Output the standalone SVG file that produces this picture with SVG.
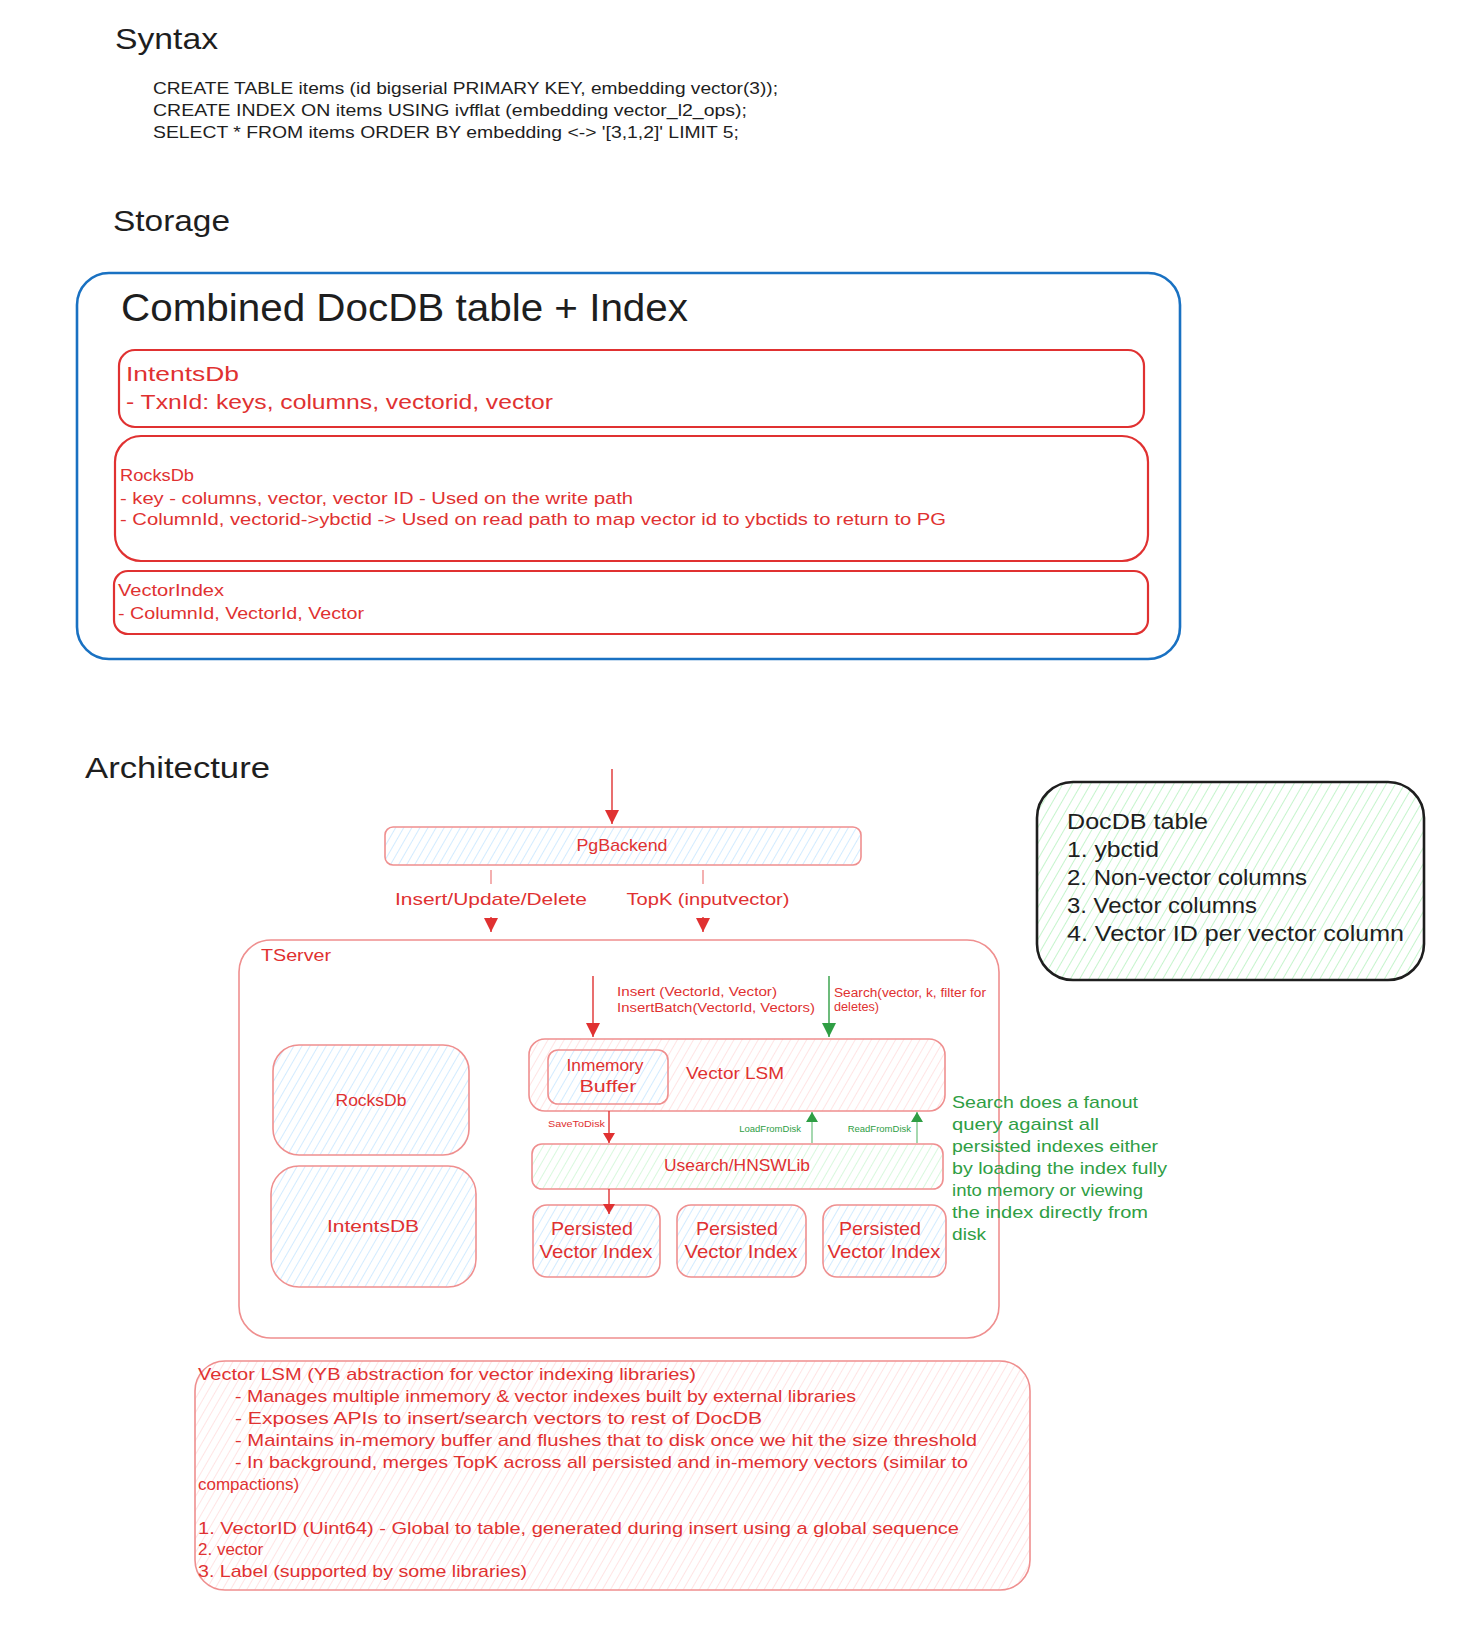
<svg xmlns="http://www.w3.org/2000/svg" width="1470" height="1635" viewBox="0 0 1470 1635">
<defs>
<style>
text{font-family:"Liberation Sans","DejaVu Sans",sans-serif;}
.h{font-size:30px;fill:#1e1e1e;}
.sql{font-size:17px;fill:#1e1e1e;}
.r{fill:#e03131;}
.g{fill:#2f9e44;}
.k{fill:#1e1e1e;}
.c{text-anchor:middle;}
.boxR{fill:none;stroke:#e03131;stroke-width:2.2;}
.boxL{stroke:#ef8f8f;stroke-width:1.6;}
.ln{fill:none;stroke:#e03131;stroke-width:1.4;}
.lg{fill:none;stroke:#2f9e44;stroke-width:1.4;}
.lnl{fill:none;stroke:#ef8f8f;stroke-width:1.4;}
.lgl{fill:none;stroke:#8fcf9c;stroke-width:1.6;}
</style>
<pattern id="hB" width="7" height="7" patternUnits="userSpaceOnUse" patternTransform="rotate(30)"><rect width="7" height="7" fill="#fff"/><line x1="0" y1="0" x2="0" y2="7" stroke="#a5d8ff" stroke-width="1"/></pattern>
<pattern id="hR" width="7" height="7" patternUnits="userSpaceOnUse" patternTransform="rotate(30)"><rect width="7" height="7" fill="#fff"/><line x1="0" y1="0" x2="0" y2="7" stroke="#ffc9c9" stroke-width="1"/></pattern>
<pattern id="hG" width="7" height="7" patternUnits="userSpaceOnUse" patternTransform="rotate(30)"><rect width="7" height="7" fill="#fff"/><line x1="0" y1="0" x2="0" y2="7" stroke="#b2f2bb" stroke-width="1"/></pattern>
<pattern id="hG2" width="8" height="8" patternUnits="userSpaceOnUse" patternTransform="rotate(30)"><rect width="8" height="8" fill="#fff"/><line x1="0" y1="0" x2="0" y2="8" stroke="#8ce99a" stroke-width="1"/></pattern>
<marker id="aRb" viewBox="0 0 14 14" refX="14" refY="7" markerWidth="16" markerHeight="14" markerUnits="userSpaceOnUse" orient="auto"><path d="M0,0 L14,7 L0,14 z" fill="#e03131"/></marker>
<marker id="aG" viewBox="0 0 14 14" refX="14" refY="7" markerWidth="16" markerHeight="14" markerUnits="userSpaceOnUse" orient="auto"><path d="M0,0 L14,7 L0,14 z" fill="#2f9e44"/></marker>
<marker id="aGs" viewBox="0 0 10 12" refX="10" refY="6" markerWidth="11" markerHeight="12" markerUnits="userSpaceOnUse" orient="auto"><path d="M0,0 L10,6 L0,12 z" fill="#2f9e44"/></marker>
<marker id="aRs" viewBox="0 0 10 12" refX="10" refY="6" markerWidth="11" markerHeight="12" markerUnits="userSpaceOnUse" orient="auto"><path d="M0,0 L10,6 L0,12 z" fill="#e03131"/></marker>
</defs>
<rect width="1470" height="1635" fill="#fff"/>

<g id="syntax">
<text class="h" x="115" y="49" textLength="103" lengthAdjust="spacingAndGlyphs">Syntax</text>
<text class="sql" x="153" y="94" textLength="625" lengthAdjust="spacingAndGlyphs">CREATE TABLE items (id bigserial PRIMARY KEY, embedding vector(3));</text>
<text class="sql" x="153" y="116" textLength="594" lengthAdjust="spacingAndGlyphs">CREATE INDEX ON items USING ivfflat (embedding vector_l2_ops);</text>
<text class="sql" x="153" y="138" textLength="586" lengthAdjust="spacingAndGlyphs">SELECT * FROM items ORDER BY embedding &lt;-&gt; '[3,1,2]' LIMIT 5;</text>
</g>

<g id="storage-title"><text class="h" x="113" y="231" textLength="117" lengthAdjust="spacingAndGlyphs">Storage</text></g>

<g id="combined">
<rect x="77" y="273" width="1103" height="386" rx="32" fill="none" stroke="#1971c2" stroke-width="2.6"/>
<text x="121" y="321" font-size="38" class="k" textLength="567" lengthAdjust="spacingAndGlyphs">Combined DocDB table + Index</text>
</g>

<g id="intentsdb-store">
<rect class="boxR" x="119" y="350" width="1025" height="77" rx="16"/>
<text class="r" x="126" y="381" font-size="21" textLength="113" lengthAdjust="spacingAndGlyphs">IntentsDb</text>
<text class="r" x="126" y="409" font-size="21" textLength="427" lengthAdjust="spacingAndGlyphs">- TxnId: keys, columns, vectorid, vector</text>
</g>

<g id="rocksdb-store">
<rect class="boxR" x="115" y="436" width="1033" height="125" rx="26"/>
<text class="r" x="120" y="481" font-size="16" textLength="74" lengthAdjust="spacingAndGlyphs">RocksDb</text>
<text class="r" x="120" y="504" font-size="16" textLength="513" lengthAdjust="spacingAndGlyphs">- key - columns, vector, vector ID - Used on the write path</text>
<text class="r" x="120" y="525" font-size="16" textLength="826" lengthAdjust="spacingAndGlyphs">- ColumnId, vectorid-&gt;ybctid -&gt; Used on read path to map vector id to ybctids to return to PG</text>
</g>

<g id="vectorindex-store">
<rect class="boxR" x="114" y="571" width="1034" height="63" rx="14"/>
<text class="r" x="118" y="596" font-size="16" textLength="106" lengthAdjust="spacingAndGlyphs">VectorIndex</text>
<text class="r" x="118" y="619" font-size="16" textLength="246" lengthAdjust="spacingAndGlyphs">- ColumnId, VectorId, Vector</text>
</g>

<g id="arch-title"><text class="h" x="85" y="778" textLength="185" lengthAdjust="spacingAndGlyphs">Architecture</text></g>

<g id="pgbackend">
<rect class="boxL" x="385" y="827" width="476" height="38" rx="8" fill="url(#hB)"/>
<text class="r c" x="622" y="851" font-size="17" textLength="91" lengthAdjust="spacingAndGlyphs">PgBackend</text>
</g>

<g id="tserver">
<rect class="boxL" x="239" y="940" width="760" height="398" rx="32" fill="none"/>
<text class="r" x="261" y="961" font-size="17" textLength="70" lengthAdjust="spacingAndGlyphs">TServer</text>
</g>

<g id="rocksdb">
<rect class="boxL" x="273" y="1045" width="196" height="110" rx="26" fill="url(#hB)" stroke="#e35a5a"/>
<text class="r c" x="371" y="1106" font-size="17" textLength="71" lengthAdjust="spacingAndGlyphs">RocksDb</text>
</g>

<g id="intentsdb">
<rect class="boxL" x="271" y="1166" width="205" height="121" rx="28" fill="url(#hB)" stroke="#e35a5a"/>
<text class="r c" x="373" y="1232" font-size="17" textLength="92" lengthAdjust="spacingAndGlyphs">IntentsDB</text>
</g>

<g id="vectorlsm">
<rect class="boxL" x="529" y="1039" width="416" height="72" rx="16" fill="url(#hR)" stroke="#e35a5a"/>
<text class="r" x="686" y="1079" font-size="17" textLength="98" lengthAdjust="spacingAndGlyphs">Vector LSM</text>
</g>

<g id="inmemory">
<rect class="boxL" x="548" y="1050" width="120" height="54" rx="10" fill="url(#hB)" stroke="#e35a5a"/>
<text class="r c" x="605" y="1071" font-size="16" textLength="77" lengthAdjust="spacingAndGlyphs">Inmemory</text>
<text class="r c" x="608" y="1092" font-size="16" textLength="57" lengthAdjust="spacingAndGlyphs">Buffer</text>
</g>

<g id="usearch">
<rect class="boxL" x="532" y="1144" width="411" height="45" rx="10" fill="url(#hG)" stroke="#e35a5a"/>
<text class="r c" x="737" y="1171" font-size="17" textLength="146" lengthAdjust="spacingAndGlyphs">Usearch/HNSWLib</text>
</g>

<g id="persisted1">
<rect class="boxL" x="533" y="1205" width="127" height="72" rx="14" fill="url(#hB)" stroke="#e35a5a"/>
<text class="r c" x="592" y="1235" font-size="19" textLength="82" lengthAdjust="spacingAndGlyphs">Persisted</text>
<text class="r c" x="596" y="1258" font-size="19" textLength="113" lengthAdjust="spacingAndGlyphs">Vector Index</text>
</g>
<g id="persisted2">
<rect class="boxL" x="677" y="1205" width="129" height="72" rx="14" fill="url(#hB)" stroke="#e35a5a"/>
<text class="r c" x="737" y="1235" font-size="19" textLength="82" lengthAdjust="spacingAndGlyphs">Persisted</text>
<text class="r c" x="741" y="1258" font-size="19" textLength="113" lengthAdjust="spacingAndGlyphs">Vector Index</text>
</g>
<g id="persisted3">
<rect class="boxL" x="823" y="1205" width="123" height="72" rx="14" fill="url(#hB)" stroke="#e35a5a"/>
<text class="r c" x="880" y="1235" font-size="19" textLength="82" lengthAdjust="spacingAndGlyphs">Persisted</text>
<text class="r c" x="884" y="1258" font-size="19" textLength="113" lengthAdjust="spacingAndGlyphs">Vector Index</text>
</g>

<g id="search-note" class="g" font-size="17">
<text x="952" y="1108" textLength="186" lengthAdjust="spacingAndGlyphs">Search does a fanout</text>
<text x="952" y="1130" textLength="147" lengthAdjust="spacingAndGlyphs">query  against all</text>
<text x="952" y="1152" textLength="206" lengthAdjust="spacingAndGlyphs">persisted indexes either</text>
<text x="952" y="1174" textLength="215" lengthAdjust="spacingAndGlyphs">by loading the index fully</text>
<text x="952" y="1196" textLength="191" lengthAdjust="spacingAndGlyphs">into memory or viewing</text>
<text x="952" y="1218" textLength="196" lengthAdjust="spacingAndGlyphs">the index directly from</text>
<text x="952" y="1240" textLength="34" lengthAdjust="spacingAndGlyphs">disk</text>
</g>

<g id="docdb-table">
<rect x="1037" y="782" width="387" height="198" rx="36" fill="url(#hG2)" stroke="#1e1e1e" stroke-width="2.6"/>
<g class="k" font-size="22">
<text x="1067" y="829" textLength="141" lengthAdjust="spacingAndGlyphs">DocDB table</text>
<text x="1067" y="857" textLength="92" lengthAdjust="spacingAndGlyphs">1. ybctid</text>
<text x="1067" y="885" textLength="240" lengthAdjust="spacingAndGlyphs">2. Non-vector columns</text>
<text x="1067" y="913" textLength="190" lengthAdjust="spacingAndGlyphs">3. Vector columns</text>
<text x="1067" y="941" textLength="337" lengthAdjust="spacingAndGlyphs">4. Vector ID per vector column</text>
</g>
</g>

<g id="lsm-note">
<rect class="boxL" x="195" y="1361" width="835" height="229" rx="30" fill="url(#hR)"/>
<g class="r" font-size="17">
<text x="198" y="1380" textLength="498" lengthAdjust="spacingAndGlyphs">Vector LSM (YB abstraction for vector indexing libraries)</text>
<text x="235" y="1402" textLength="621" lengthAdjust="spacingAndGlyphs">- Manages multiple inmemory &amp; vector indexes built by external libraries</text>
<text x="235" y="1424" textLength="527" lengthAdjust="spacingAndGlyphs">- Exposes APIs to insert/search vectors to rest of DocDB</text>
<text x="235" y="1446" textLength="742" lengthAdjust="spacingAndGlyphs">- Maintains in-memory buffer and flushes that to disk once we hit the size threshold</text>
<text x="235" y="1468" textLength="733" lengthAdjust="spacingAndGlyphs">- In background, merges TopK across all persisted and in-memory vectors (similar to</text>
<text x="198" y="1490">compactions)</text>
<text x="198" y="1534" textLength="761" lengthAdjust="spacingAndGlyphs">1. VectorID (Uint64) - Global to table, generated during insert using a global sequence</text>
<text x="198" y="1555">2. vector</text>
<text x="198" y="1577" textLength="329" lengthAdjust="spacingAndGlyphs">3. Label (supported by some libraries)</text>
</g>
</g>

<g id="connectors">
<path class="ln" d="M612,769 L612,824" marker-end="url(#aRb)"/>
<path class="lnl" d="M491,870 L491,884"/>
<path class="ln" d="M491,917 L491,932" marker-end="url(#aRb)"/>
<text class="r c" x="491" y="905" font-size="17" textLength="192" lengthAdjust="spacingAndGlyphs">Insert/Update/Delete</text>
<path class="lnl" d="M703,870 L703,884"/>
<path class="ln" d="M703,917 L703,932" marker-end="url(#aRb)"/>
<text class="r c" x="708" y="905" font-size="17" textLength="163" lengthAdjust="spacingAndGlyphs">TopK (inputvector)</text>

<path class="ln" d="M593,976 L593,1037" marker-end="url(#aRb)"/>
<text class="r" font-size="13.5" x="617" y="996" textLength="160" lengthAdjust="spacingAndGlyphs">Insert (VectorId, Vector)</text>
<text class="r" font-size="13.5" x="617" y="1012" textLength="198" lengthAdjust="spacingAndGlyphs">InsertBatch(VectorId, Vectors)</text>
<path class="lg" d="M829,976 L829,1037" marker-end="url(#aG)"/>
<text class="r" font-size="12" x="834" y="997" textLength="152" lengthAdjust="spacingAndGlyphs">Search(vector, k, filter for</text>
<text class="r" font-size="12" x="834" y="1011" textLength="45" lengthAdjust="spacingAndGlyphs">deletes)</text>

<path class="ln" d="M609,1111 L609,1143" marker-end="url(#aRs)"/>
<text class="r" x="548" y="1127" font-size="9.5" textLength="57" lengthAdjust="spacingAndGlyphs">SaveToDisk</text>
<path class="lgl" d="M812,1143 L812,1112" marker-end="url(#aGs)"/>
<text class="g" x="801" y="1132" font-size="9.5" text-anchor="end">LoadFromDisk</text>
<path class="lgl" d="M917,1143 L917,1112" marker-end="url(#aGs)"/>
<text class="g" x="911" y="1132" font-size="9.5" text-anchor="end">ReadFromDisk</text>
<path class="ln" d="M609,1189 L609,1214" marker-end="url(#aRs)"/>
</g>
</svg>
